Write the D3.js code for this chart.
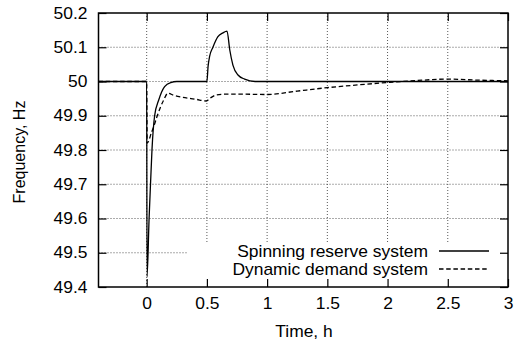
<!DOCTYPE html>
<html>
<head>
<meta charset="utf-8">
<script src="https://cdn.jsdelivr.net/npm/d3@7"></script>
<style>
  html, body { margin: 0; padding: 0; background: #fff; }
  text { font-family: "Liberation Sans", Arial, Helvetica, sans-serif; fill: #000; }
</style>
</head>
<body>
<div id="chart"></div>
<script>
// Frequency response after a generation loss: spinning reserve vs dynamic demand

// time in hours, frequency in Hz
const spinTime = [-0.4, 0, 0.003, 0.02, 0.033, 0.044, 0.066, 0.1, 0.149, 0.2, 0.25, 0.5,
  0.51, 0.523, 0.55, 0.59, 0.633, 0.667, 0.69, 0.716, 0.758, 0.813, 0.9, 1.0, 3.0];
const spinFreq = [50, 50, 49.43, 49.6, 49.71, 49.8, 49.9, 49.946, 49.985, 49.997, 50, 50,
  50.045, 50.074, 50.10, 50.13, 50.142, 50.147, 50.092, 50.048, 50.019, 50.007, 50.0, 50, 50];

const dynTime = [-0.4, 0, 0.004, 0.039, 0.06, 0.088, 0.14, 0.177, 0.22, 0.30, 0.41, 0.495,
  0.53, 0.58, 0.65, 0.8, 1.0, 1.25, 1.5, 1.75, 2.0, 2.25, 2.5, 2.75, 3.0];
const dynFreq = [50, 50, 49.82, 49.85, 49.87, 49.9, 49.945, 49.966, 49.96, 49.954, 49.948, 49.943,
  49.952, 49.961, 49.963, 49.963, 49.962, 49.972, 49.982, 49.99, 49.997, 50.003, 50.007, 50.004, 50.002];

const seriesNames = ["Spinning reserve system", "Dynamic demand system"];
const xTicks = [0, 0.5, 1, 1.5, 2, 2.5, 3];
const yTicks = [49.4, 49.5, 49.6, 49.7, 49.8, 49.9, 50, 50.1, 50.2];

const width = 516, height = 341;
const plot = { left: 98.5, right: 508, top: 13, bottom: 287 };
const sx = 1.09; // horizontal stretch of the lettering

const svg = d3.select("#chart").append("svg")
  .attr("width", width)
  .attr("height", height);

const x = d3.scaleLinear().domain([-0.4, 3]).range([plot.left, plot.right]);
const y = d3.scaleLinear().domain([49.4, 50.2]).range([plot.bottom, plot.top]);

// grid
const grid = svg.append("g")
  .attr("stroke", "#444")
  .attr("stroke-width", 0.9)
  .attr("stroke-dasharray", "1,2");

grid.selectAll(".gy")
  .data(yTicks.filter(d => d > 49.4 && d < 50.2))
  .join("line")
  .attr("x1", plot.left).attr("x2", plot.right)
  .attr("y1", d => y(d)).attr("y2", d => y(d));

grid.selectAll(".gx")
  .data(xTicks.filter(d => d < 3))
  .join("line")
  .attr("x1", d => x(d)).attr("x2", d => x(d))
  .attr("y1", plot.top).attr("y2", plot.bottom);

// legend box hides the grid behind it
svg.append("rect")
  .attr("x", 187).attr("y", 242)
  .attr("width", plot.right - 187).attr("height", plot.bottom - 242)
  .attr("fill", "#fff");

// curves
const line = d3.line().curve(d3.curveMonotoneX);
const spin = spinTime.map((t, i) => [x(t), y(spinFreq[i])]);
const dyn = dynTime.map((t, i) => [x(t), y(dynFreq[i])]);

svg.append("path")
  .attr("d", line(dyn))
  .attr("fill", "none")
  .attr("stroke", "#000")
  .attr("stroke-width", 1.3)
  .attr("stroke-dasharray", "4.5,2.7");

svg.append("path")
  .attr("d", line(spin))
  .attr("fill", "none")
  .attr("stroke", "#000")
  .attr("stroke-width", 1.3);

// axes with inward ticks
const fmt = d => String(+d.toFixed(1));

const xAxis = svg.append("g")
  .attr("transform", `translate(0,${plot.bottom})`)
  .call(d3.axisBottom(x).tickValues(xTicks).tickSize(-8).tickPadding(11).tickFormat(fmt));
svg.append("g")
  .attr("transform", `translate(0,${plot.top})`)
  .call(d3.axisTop(x).tickValues(xTicks).tickSize(-8).tickFormat(""));
const yAxis = svg.append("g")
  .attr("transform", `translate(${plot.left},0)`)
  .call(d3.axisLeft(y).tickValues(yTicks).tickSize(-8).tickPadding(11).tickFormat(fmt));
svg.append("g")
  .attr("transform", `translate(${plot.right},0)`)
  .call(d3.axisRight(y).tickValues(yTicks).tickSize(-8).tickFormat(""));

svg.selectAll(".domain").remove();
svg.selectAll(".tick line").attr("stroke", "#000").attr("stroke-width", 1.2);

xAxis.selectAll("text")
  .attr("font-size", 16)
  .attr("transform", `scale(${sx},1)`);
yAxis.selectAll("text")
  .attr("font-size", 16)
  .attr("x", -11 / sx)
  .attr("transform", `scale(${sx},1)`);
svg.selectAll(".tick text").attr("font-family", null);

// frame
svg.append("rect")
  .attr("x", plot.left).attr("y", plot.top)
  .attr("width", plot.right - plot.left)
  .attr("height", plot.bottom - plot.top)
  .attr("fill", "none")
  .attr("stroke", "#000")
  .attr("stroke-width", 1.5);

// axis titles
svg.append("text")
  .attr("transform", `translate(304,337) scale(${sx},1)`)
  .attr("text-anchor", "middle")
  .attr("font-size", 16)
  .text("Time, h");

svg.append("text")
  .attr("transform", "translate(25,152) rotate(-90)")
  .attr("text-anchor", "middle")
  .attr("font-size", 16)
  .text("Frequency, Hz");

// legend
const legend = svg.append("g");
seriesNames.forEach((name, i) => {
  const ly = 251 + i * 18;
  legend.append("text")
    .attr("transform", `translate(428,${ly}) scale(${sx},1)`)
    .attr("dy", "0.35em")
    .attr("text-anchor", "end")
    .attr("font-size", 16)
    .text(name);
  legend.append("line")
    .attr("x1", 439).attr("x2", 489)
    .attr("y1", ly).attr("y2", ly)
    .attr("stroke", "#000")
    .attr("stroke-width", 1.3)
    .attr("stroke-dasharray", i === 0 ? null : "4.5,2.7");
});
</script>
</body>
</html>
